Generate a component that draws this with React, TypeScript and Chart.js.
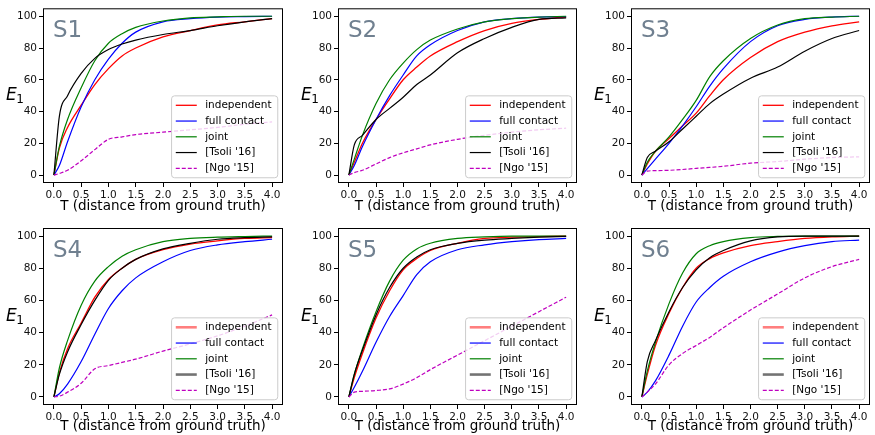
import React, { useEffect, useRef } from "react";
import { Chart, registerables } from "chart.js";

Chart.register(...registerables);

const FONT = '"DejaVu Sans", "Liberation Sans", sans-serif';

// ---------- data ----------
const T_VALUES = [0, 0.1, 0.25, 0.5, 0.75, 1.0, 1.25, 1.5, 2.0, 2.5, 3.0, 3.5, 4.0];
const X_TICKS = [0, 0.5, 1, 1.5, 2, 2.5, 3, 3.5, 4];
const Y_TICKS = [0, 20, 40, 60, 80, 100];
const SERIES_LABELS = ["independent", "full contact", "joint", "[Tsoli '16]", "[Ngo '15]"];
const PANEL_TITLES = ["S1", "S2", "S3", "S4", "S5", "S6"];
const X_TITLE = "T (distance from ground truth)";

const S1_INDEPENDENT = [0, 17, 30, 44, 57, 67, 75, 80, 87, 91, 94.5, 96.5, 98.5];
const S1_FULL_CONTACT = [0, 6, 21, 43, 60, 73, 83, 90, 96.5, 98.5, 99.5, 99.8, 100];
const S1_JOINT = [0, 18, 35, 55, 72, 83, 89, 93, 97, 99, 99.6, 100, 100];
const S1_TSOLI = [0, 37, 50, 64, 73.5, 79, 82.5, 85, 88.5, 91, 94, 96.5, 98.5];
const S1_NGO = [0, 1, 3, 9, 16, 22.5, 24, 25.5, 27, 28.5, 30, 32, 33.5];

const S2_INDEPENDENT = [0, 8, 20, 35, 48, 60, 68, 75, 84, 91, 95.5, 98, 99.5];
const S2_FULL_CONTACT = [0, 6, 18, 35, 50, 63, 75, 82, 91, 96.5, 98.5, 99.5, 99.8];
const S2_JOINT = [0, 10, 25, 45, 60, 70.5, 79, 85, 92, 96.5, 98.5, 99.5, 100];
const S2_TSOLI = [0, 19, 25, 35, 42, 49, 57, 63, 77, 86, 93, 98, 99];
const S2_NGO = [0, 1.5, 3, 7, 11, 14, 16.5, 19, 22.5, 25, 27, 28.5, 29.5];

const S3_INDEPENDENT = [0, 7, 15, 23, 31, 39, 50, 60, 74, 84, 90, 94, 96.5];
const S3_FULL_CONTACT = [0, 4, 10, 20, 31, 43, 56, 67, 84, 94, 98, 99.5, 100];
const S3_JOINT = [0, 8, 15, 24, 35, 47, 62, 72, 86, 94.5, 98.5, 99.5, 100];
const S3_TSOLI = [0, 11, 15, 21, 29, 37, 45, 51, 61, 68, 78, 86, 91];
const S3_NGO = [0, 2.5, 2.8, 3, 3.5, 4.2, 4.8, 5.5, 7.5, 8.5, 10, 11, 11.5];

const S4_INDEPENDENT = [0, 15, 30, 46, 62, 73, 80, 85.5, 91.5, 95, 97, 98.5, 99];
const S4_FULL_CONTACT = [0, 2, 8, 22, 39, 55, 66, 74, 84, 91, 94.5, 96.5, 98];
const S4_JOINT = [0, 18, 35, 57, 72, 81, 87.5, 91.5, 96.5, 98.5, 99.3, 99.7, 100];
const S4_TSOLI = [0, 14, 28, 45, 60, 72.5, 80, 85.5, 92, 95.5, 98, 99, 99.5];
const S4_NGO = [0, 0.5, 3, 8.5, 17.5, 19.5, 21.5, 23.5, 28.5, 33, 38, 44, 51];

const S5_INDEPENDENT = [0, 12, 27, 49, 66, 79, 86, 91, 95.5, 98.5, 99.3, 99.6, 100];
const S5_FULL_CONTACT = [0, 6, 16, 34, 50, 63, 76, 84, 91.5, 94.5, 96.5, 97.8, 98.5];
const S5_JOINT = [0, 14, 30, 53, 72, 85, 92, 95.5, 98.5, 99.5, 100, 100, 100];
const S5_TSOLI = [0, 14, 29, 51, 68, 80, 87, 91.5, 95.5, 97.5, 98.5, 99.3, 99.8];
const S5_NGO = [0, 3, 3.5, 4, 5, 8, 12, 17, 26, 35, 44, 53, 62];

const S6_INDEPENDENT = [0, 14, 32, 52, 68, 80, 86, 89.5, 94, 96.5, 98.5, 99.5, 100];
const S6_FULL_CONTACT = [0, 3, 10, 26, 44, 59, 68, 75, 84, 90, 94, 96.5, 97.5];
const S6_JOINT = [0, 16, 34, 58, 77, 89, 94, 96.5, 99, 99.8, 100, 100, 100];
const S6_TSOLI = [0, 22, 35, 53, 68, 79, 86.5, 91, 97, 99.5, 100, 100, 100];
const S6_NGO = [0, 3, 8, 20, 27, 32, 37, 43, 54, 64, 74, 81, 85.5];

const PANEL_SERIES = [
  [S1_INDEPENDENT, S1_FULL_CONTACT, S1_JOINT, S1_TSOLI, S1_NGO],
  [S2_INDEPENDENT, S2_FULL_CONTACT, S2_JOINT, S2_TSOLI, S2_NGO],
  [S3_INDEPENDENT, S3_FULL_CONTACT, S3_JOINT, S3_TSOLI, S3_NGO],
  [S4_INDEPENDENT, S4_FULL_CONTACT, S4_JOINT, S4_TSOLI, S4_NGO],
  [S5_INDEPENDENT, S5_FULL_CONTACT, S5_JOINT, S5_TSOLI, S5_NGO],
  [S6_INDEPENDENT, S6_FULL_CONTACT, S6_JOINT, S6_TSOLI, S6_NGO],
];

// ---------- layout ----------
const COLS = [
  { cx: 0, cw: 292, left: 43, right: 283 },
  { cx: 292, cw: 292, left: 338, right: 577 },
  { cx: 584, cw: 291, left: 631, right: 870 },
];
const ROWS = [
  { cy: 0, ch: 218, top: 5, bottom: 183 },
  { cy: 218, ch: 217, top: 228, bottom: 405 },
];

type Style = { color: string; width: number; dash: number[] };

const LINE_COLORS = ["#ff0000", "#0000ff", "#008000", "#000000", "#bf00bf"];

function lineStyle(i: number): Style {
  return { color: LINE_COLORS[i], width: i === 0 ? 1.3 : 1.2, dash: i === 4 ? [4, 2] : [] };
}

function legendStyle(row: number, i: number): Style {
  if (row === 1 && i === 0) return { color: "rgba(255,0,0,0.5)", width: 2.6, dash: [] };
  if (row === 1 && i === 3) return { color: "rgba(0,0,0,0.55)", width: 2.6, dash: [] };
  return lineStyle(i);
}

function Panel({ index }: { index: number }) {
  const ref = useRef<HTMLCanvasElement>(null);
  const row = index < 3 ? 0 : 1;
  const col = index % 3;
  const C = COLS[col];
  const R = ROWS[row];

  useEffect(() => {
    if (!ref.current) return;
    const styles = SERIES_LABELS.map((_, i) => lineStyle(i));
    const lstyles = SERIES_LABELS.map((_, i) => legendStyle(row, i));
    const titleSize = 13.5;
    const titleLH = titleSize * 1.2;
    const titlePadBottom = Math.max(0, R.ch - (R.bottom - R.cy) - 23 - titleLH / 2);

    const deco = {
      id: "deco" + index,
      afterDatasetsDraw(chart: any) {
        const ctx = chart.ctx as CanvasRenderingContext2D;
        const a = chart.chartArea;
        ctx.save();
        // frame
        ctx.strokeStyle = "#000";
        ctx.lineWidth = 1;
        ctx.setLineDash([]);
        ctx.strokeRect(a.left + 0.5, a.top + 0.5, a.right - a.left - 1, a.bottom - a.top - 1);

        // panel label
        ctx.fillStyle = "#708090";
        ctx.font = `23px ${FONT}`;
        ctx.textBaseline = "alphabetic";
        ctx.textAlign = "left";
        ctx.fillText(PANEL_TITLES[index], a.left + 10, a.top + 29);

        // y label E_1
        const cyMid = (a.top + a.bottom) / 2;
        ctx.fillStyle = "#000";
        ctx.font = `italic 17px ${FONT}`;
        ctx.fillText("E", a.left - 37, cyMid + 4.5);
        const eW = ctx.measureText("E").width;
        ctx.font = `12px ${FONT}`;
        ctx.fillText("1", a.left - 37 + eW - 0.5, cyMid + 7.5);

        // legend
        const fs = 10.5;
        ctx.font = `${fs}px ${FONT}`;
        const textW = Math.max(...SERIES_LABELS.map((l) => ctx.measureText(l).width));
        const pad = 0.4 * fs;
        const handle = 2 * fs;
        const htp = 0.8 * fs;
        const rowH = 1.5 * fs;
        const boxW = pad + handle + htp + textW + pad + 2;
        const boxH = 2 * pad + SERIES_LABELS.length * fs + (SERIES_LABELS.length - 1) * 0.5 * fs;
        const bx = a.right - 0.5 * fs - boxW;
        const by = a.bottom - 0.5 * fs - boxH;
        ctx.beginPath();
        const r = 3;
        ctx.moveTo(bx + r, by);
        ctx.lineTo(bx + boxW - r, by);
        ctx.quadraticCurveTo(bx + boxW, by, bx + boxW, by + r);
        ctx.lineTo(bx + boxW, by + boxH - r);
        ctx.quadraticCurveTo(bx + boxW, by + boxH, bx + boxW - r, by + boxH);
        ctx.lineTo(bx + r, by + boxH);
        ctx.quadraticCurveTo(bx, by + boxH, bx, by + boxH - r);
        ctx.lineTo(bx, by + r);
        ctx.quadraticCurveTo(bx, by, bx + r, by);
        ctx.closePath();
        ctx.fillStyle = "rgba(255,255,255,0.8)";
        ctx.fill();
        ctx.strokeStyle = "#cccccc";
        ctx.lineWidth = 1;
        ctx.stroke();

        SERIES_LABELS.forEach((label, i) => {
          const y = by + pad + fs / 2 + i * rowH;
          const s = lstyles[i];
          ctx.beginPath();
          ctx.strokeStyle = s.color;
          ctx.lineWidth = s.width;
          ctx.setLineDash(s.dash);
          ctx.moveTo(bx + pad, y);
          ctx.lineTo(bx + pad + handle, y);
          ctx.stroke();
          ctx.setLineDash([]);
          ctx.fillStyle = "#000";
          ctx.textBaseline = "middle";
          ctx.fillText(label, bx + pad + handle + htp, y);
        });
        ctx.restore();
      },
    };

    const tickFont = { family: FONT, size: 10.5 };

    const chart = new Chart(ref.current, {
      type: "line",
      data: {
        datasets: PANEL_SERIES[index].map((vals, i) => ({
          label: SERIES_LABELS[i],
          data: T_VALUES.map((t, k) => ({ x: t, y: vals[k] })),
          borderColor: styles[i].color,
          backgroundColor: styles[i].color,
          borderWidth: styles[i].width,
          borderDash: styles[i].dash,
          pointRadius: 0,
          fill: false,
          cubicInterpolationMode: "monotone" as const,
          order: SERIES_LABELS.length - i,
        })),
      },
      options: {
        animation: false,
        responsive: false,
        maintainAspectRatio: false,
        devicePixelRatio: 1,
        events: [],
        layout: {
          padding: {
            left: 0,
            top: R.top - R.cy,
            right: C.cx + C.cw - C.right,
            bottom: 0,
          },
        },
        plugins: {
          legend: { display: false },
          tooltip: { enabled: false },
          title: { display: false },
        },
        scales: {
          x: {
            type: "linear",
            min: -0.2,
            max: 4.2,
            afterBuildTicks: (s: any) => {
              s.ticks = X_TICKS.map((v) => ({ value: v }));
            },
            afterFit: (s: any) => {
              s.height = R.cy + R.ch - R.bottom;
            },
            ticks: {
              font: tickFont,
              color: "#111",
              padding: 1.5,
              maxRotation: 0,
              autoSkip: false,
              callback: (v: any) => Number(v).toFixed(1),
            },
            grid: { drawOnChartArea: false, drawTicks: true, tickLength: 4, color: "#000", lineWidth: 1 },
            border: { display: false },
            title: {
              display: true,
              text: X_TITLE,
              color: "#000",
              font: { family: FONT, size: titleSize },
              padding: { top: 0, bottom: titlePadBottom },
            },
          },
          y: {
            type: "linear",
            min: -5,
            max: 105,
            afterBuildTicks: (s: any) => {
              s.ticks = Y_TICKS.map((v) => ({ value: v }));
            },
            afterFit: (s: any) => {
              s.width = C.left - C.cx;
            },
            ticks: {
              font: tickFont,
              color: "#111",
              padding: 2,
              autoSkip: false,
              callback: (v: any) => String(v),
            },
            grid: { drawOnChartArea: false, drawTicks: true, tickLength: 4, color: "#000", lineWidth: 1 },
            border: { display: false },
          },
        },
      },
      plugins: [deco],
    } as any);
    return () => chart.destroy();
  }, [index]);

  return (
    <canvas
      ref={ref}
      width={C.cw}
      height={R.ch}
      style={{ position: "absolute", left: C.cx, top: R.cy, width: C.cw, height: R.ch }}
    />
  );
}

export default function App() {
  return (
    <div style={{ position: "absolute", left: 0, top: 0, width: 875, height: 435, background: "#fff", overflow: "hidden" }}>
      {PANEL_TITLES.map((_, i) => (
        <Panel key={i} index={i} />
      ))}
    </div>
  );
}
